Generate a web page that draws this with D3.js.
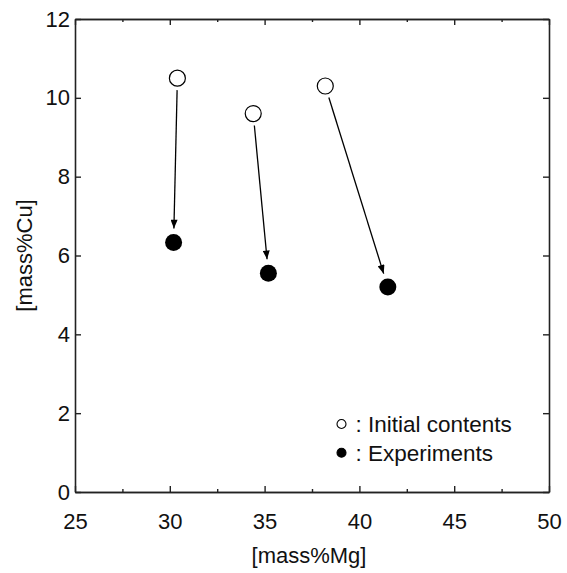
<!DOCTYPE html>
<html>
<head>
<meta charset="utf-8">
<script src="https://cdn.jsdelivr.net/npm/d3@7"></script>
<style>
  body { margin: 0; background: #fff; }
  svg text { font-family: "Liberation Sans", Arial, sans-serif; fill: #111; }
</style>
</head>
<body>
<div id="chart"></div>
<script>
const WIDTH = 567, HEIGHT = 573;
const MARGIN = { top: 19, right: 18, bottom: 81, left: 75 };
const PLOT_W = WIDTH - MARGIN.left - MARGIN.right, PLOT_H = HEIGHT - MARGIN.top - MARGIN.bottom;

// data
const initialMg = [30.4, 34.4, 38.2];
const initialCu = [10.5, 9.6, 10.3];
const expMg = [30.2, 35.2, 41.5];
const expCu = [6.33, 5.55, 5.2];
const xTicks = [25, 30, 35, 40, 45, 50];
const xMinorTicks = [27.5, 32.5, 37.5, 42.5, 47.5];
const yTicks = [0, 2, 4, 6, 8, 10, 12];
const legendLabels = [": Initial contents", ": Experiments"];

const svg = d3.select("#chart")
    .append("svg")
    .attr("width", WIDTH)
    .attr("height", HEIGHT)
    .append("g").attr("transform", "translate(" + MARGIN.left + "," + MARGIN.top + ")");

let x = d3.scaleLinear().domain([25, 50]).range([0, PLOT_W]);
let y = d3.scaleLinear().domain([0, 12]).range([PLOT_H, 0]);

// axes, ticks pointing inward
svg.append("g")
    .attr("class", "xaxis")
    .attr("transform", "translate(0," + PLOT_H + ")")
    .call(d3.axisBottom(x).tickValues(xTicks).tickSize(-6).tickPadding(21).tickSizeOuter(0));
svg.append("g")
    .attr("class", "xminor")
    .attr("transform", "translate(0," + PLOT_H + ")")
    .call(d3.axisBottom(x).tickValues(xMinorTicks).tickSize(-3).tickFormat("").tickSizeOuter(0));
svg.append("g")
    .attr("class", "xtop")
    .call(d3.axisTop(x).tickValues(xTicks).tickSize(-6).tickFormat("").tickSizeOuter(0));
svg.append("g")
    .attr("class", "xtopminor")
    .call(d3.axisTop(x).tickValues(xMinorTicks).tickSize(-3).tickFormat("").tickSizeOuter(0));
svg.append("g")
    .attr("class", "yaxis")
    .call(d3.axisLeft(y).tickValues(yTicks).tickSize(-6).tickPadding(5).tickSizeOuter(0));
svg.append("g")
    .attr("class", "yright")
    .attr("transform", "translate(" + PLOT_W + ",0)")
    .call(d3.axisRight(y).tickValues(yTicks).tickSize(-6).tickFormat("").tickSizeOuter(0));

svg.selectAll(".domain").attr("stroke", "#222").attr("stroke-width", 1.6);
svg.selectAll(".tick line").attr("stroke", "#222").attr("stroke-width", 1.4);
svg.selectAll(".tick text")
    .style("font-size", "22px")
    .style("font-family", "'Liberation Sans', Arial, sans-serif")
    .attr("fill", "#111");

// axis titles
svg.append("text")
    .attr("x", PLOT_W / 2 - 3)
    .attr("y", PLOT_H + 71)
    .attr("text-anchor", "middle")
    .style("font-size", "22px")
    .text("[mass%Mg]");
svg.append("text")
    .attr("transform", "translate(" + (-43) + "," + (PLOT_H / 2) + ") rotate(-90)")
    .attr("text-anchor", "middle")
    .style("font-size", "22px")
    .text("[mass%Cu]");

// arrowhead marker
d3.select("svg").append("defs").append("marker")
    .attr("id", "head")
    .attr("viewBox", "0 0 10 8")
    .attr("refX", 10)
    .attr("refY", 4)
    .attr("markerWidth", 10)
    .attr("markerHeight", 7)
    .attr("markerUnits", "userSpaceOnUse")
    .attr("orient", "auto")
    .append("path")
    .attr("d", "M0,0 L10,4 L0,8 Z")
    .attr("fill", "#000");

const pairs = initialMg.map((d, i) => ({ x0: d, y0: initialCu[i], x1: expMg[i], y1: expCu[i] }));

svg.append("g")
    .selectAll("line")
    .data(pairs)
    .join("line")
    .each(function (d) {
        const ax = x(d.x0), ay = y(d.y0), bx = x(d.x1), by = y(d.y1);
        const len = Math.hypot(bx - ax, by - ay);
        const ux = (bx - ax) / len, uy = (by - ay) / len;
        d3.select(this)
            .attr("x1", ax + ux * 12).attr("y1", ay + uy * 12)
            .attr("x2", bx - ux * 14).attr("y2", by - uy * 14);
    })
    .attr("stroke", "#000")
    .attr("stroke-width", 1.3)
    .attr("marker-end", "url(#head)");

svg.append("g")
    .selectAll("circle")
    .data(initialMg)
    .join("circle")
    .attr("cx", (d) => x(d))
    .attr("cy", (d, i) => y(initialCu[i]))
    .attr("r", 8)
    .attr("fill", "#fff")
    .attr("stroke", "#000")
    .attr("stroke-width", 1.2);

svg.append("g")
    .selectAll("circle")
    .data(expMg)
    .join("circle")
    .attr("cx", (d) => x(d))
    .attr("cy", (d, i) => y(expCu[i]))
    .attr("r", 8.5)
    .attr("fill", "#000");

// legend
const legend = svg.append("g").attr("transform", "translate(" + (341.5 - MARGIN.left) + "," + (424 - MARGIN.top) + ")");
legendLabels.forEach((label, i) => {
    const row = legend.append("g").attr("transform", "translate(0," + i * 28.7 + ")");
    row.append("circle")
        .attr("r", 4.5)
        .attr("fill", i === 0 ? "#fff" : "#000")
        .attr("stroke", "#000")
        .attr("stroke-width", 1.1);
    row.append("text")
        .attr("x", 14)
        .attr("y", 8)
        .style("font-size", "22.5px")
        .text(label);
});
</script>
</body>
</html>
